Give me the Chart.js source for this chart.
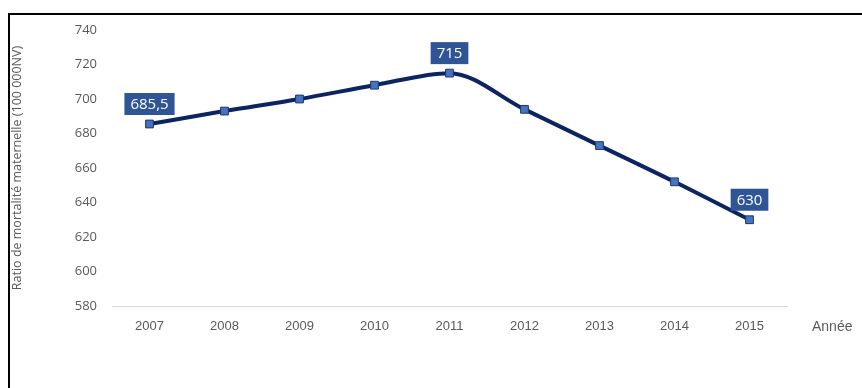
<!DOCTYPE html>
<html>
<head>
<meta charset="utf-8">
<script src="https://cdn.jsdelivr.net/npm/chart.js@4/dist/chart.umd.min.js"></script>
<style>
  html, body { margin: 0; padding: 0; background: #fff; }
  #wrap { position: relative; width: 862px; height: 388px; }
</style>
</head>
<body>
<div id="wrap"><canvas id="c" width="862" height="388"></canvas></div>
<script>
const years = ['2007', '2008', '2009', '2010', '2011', '2012', '2013', '2014', '2015'];
const ratios = [685.5, 693, 700, 708, 715, 694, 673, 652, 630];
const labelIndices = [0, 4, 8];
const labelTexts = ['685,5', '715', '630'];
const yTicks = [580, 600, 620, 640, 660, 680, 700, 720, 740];
const yTitle = 'Ratio de mortalité maternelle (100 000NV)';
const xTitle = 'Année';

const frame = {
  id: 'frame',
  beforeDraw(chart) {
    const ctx = chart.ctx;
    ctx.save();
    ctx.fillStyle = '#fff';
    ctx.fillRect(0, 0, chart.width, chart.height);
    ctx.strokeStyle = '#000';
    ctx.lineWidth = 2;
    ctx.beginPath();
    ctx.moveTo(9, chart.height);
    ctx.lineTo(9, 14);
    ctx.lineTo(chart.width, 14);
    ctx.stroke();
    ctx.restore();
  },
  afterDraw(chart) {
    const ctx = chart.ctx;
    const xs = chart.scales.x;
    ctx.save();
    ctx.font = '14px "Liberation Sans", sans-serif';
    ctx.fillStyle = '#595959';
    ctx.textAlign = 'left';
    ctx.textBaseline = 'middle';
    ctx.fillText(xTitle, xs.right + 25, xs.top + 21);
    ctx.restore();
  }
};

const boxLabels = {
  id: 'boxLabels',
  afterDatasetsDraw(chart) {
    const ctx = chart.ctx;
    const meta = chart.getDatasetMeta(0);
    ctx.save();
    ctx.font = '15px "Open Sans", sans-serif';
    ctx.textAlign = 'center';
    ctx.textBaseline = 'middle';
    labelIndices.forEach((idx, k) => {
      const pt = meta.data[idx];
      const txt = labelTexts[k];
      const w = ctx.measureText(txt).width + 12;
      const h = 22;
      const cx = pt.x;
      const bottom = pt.y - 9;
      ctx.fillStyle = '#2F5597';
      ctx.fillRect(cx - w / 2, bottom - h, w, h);
      ctx.fillStyle = '#ffffff';
      ctx.fillText(txt, cx, bottom - h / 2 + 1);
    });
    ctx.restore();
  }
};

new Chart(document.getElementById('c'), {
  type: 'line',
  data: {
    labels: years,
    datasets: [{
      data: ratios,
      borderColor: '#0C2461',
      borderWidth: 4,
      tension: 0.35,
      cubicInterpolationMode: 'monotone',
      pointStyle: 'rect',
      pointRadius: 5.5,
      pointHoverRadius: 5.5,
      pointBackgroundColor: '#4472C4',
      pointBorderColor: '#1F3864',
      pointBorderWidth: 1,
      fill: false
    }]
  },
  options: {
    responsive: false,
    animation: false,
    devicePixelRatio: 1,
    layout: { padding: { top: 30, right: 75, bottom: 0, left: 0 } },
    plugins: { legend: { display: false }, tooltip: { enabled: false } },
    scales: {
      x: {
        offset: true,
        grid: { display: false, drawTicks: false },
        border: { display: true, color: '#D9D9D9', width: 1 },
        ticks: {
          padding: 13,
          color: '#595959',
          font: { family: '"Liberation Sans", sans-serif', size: 13 }
        },
        afterFit(s) { s.height = 82; }
      },
      y: {
        min: 580,
        max: 740,
        afterBuildTicks(s) { s.ticks = yTicks.map(v => ({ value: v })); },
        grid: { display: false, drawTicks: false },
        border: { display: false },
        ticks: {
          padding: 15,
          color: '#595959',
          font: { family: '"Open Sans", sans-serif', size: 13 }
        },
        title: {
          display: true,
          text: yTitle,
          color: '#595959',
          padding: { top: 10, bottom: 0 },
          font: { family: '"Open Sans", sans-serif', size: 12.5 }
        },
        afterFit(s) { s.width = 112; }
      }
    }
  },
  plugins: [frame, boxLabels]
});
</script>
</body>
</html>
